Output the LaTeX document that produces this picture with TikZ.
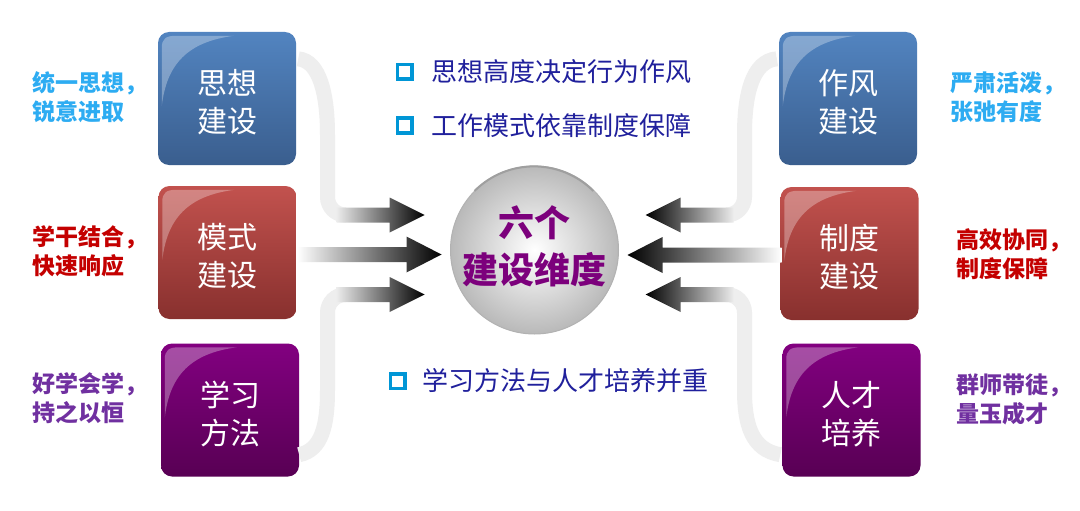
\documentclass[tikz,border=0pt]{standalone}
\usepackage{fontspec}
\setmainfont{Noto Sans CJK SC}
\usetikzlibrary{calc,positioning}
\definecolor{blueTop}{RGB}{82,132,192}
\definecolor{blueBot}{RGB}{58,94,142}
\definecolor{redTop}{RGB}{194,82,78}
\definecolor{redBot}{RGB}{136,48,46}
\definecolor{purTop}{RGB}{130,0,128}
\definecolor{purBot}{RGB}{88,0,84}
\definecolor{skyText}{RGB}{45,172,242}
\definecolor{redText}{RGB}{196,0,0}
\definecolor{purText}{RGB}{112,48,160}
\definecolor{navyText}{RGB}{32,32,156}
\definecolor{bulletBlue}{RGB}{0,150,214}
\definecolor{hubText}{RGB}{124,0,124}
\tikzset{
  dimbox/.style={rounded corners=11pt, minimum width=138pt, minimum height=133pt, inner sep=0pt},
  boxtxt/.style={text=white, align=center, inner sep=0pt, yshift=-4pt, font=\fontsize{30}{38}\selectfont},
  bluebox/.style={dimbox, top color=blueTop, bottom color=blueBot},
  redbox/.style={dimbox, top color=redTop, bottom color=redBot},
  purbox/.style={dimbox, top color=purTop, bottom color=purBot},
  motto/.style={anchor=west, inner sep=0pt, align=left, font=\fontsize{23}{29}\selectfont\bfseries},
  bsq/.style={draw=bulletBlue, line width=3.5pt, minimum size=14.5pt, inner sep=0pt},
  btext/.style={anchor=west, inner sep=0pt, text=navyText, font=\fontsize{26}{30}\selectfont},
  band/.style={draw=gray!13, line width=15pt},
  headL/.style={left color=gray!15, right color=black},
  headR/.style={left color=black, right color=gray!15},
  gloss/.style={white, opacity=.3}
}
\begin{document}
\begin{tikzpicture}[x=1pt, y=-1pt]
\fill[white] (0,0) rectangle (1080,511);
\useasboundingbox (0,0) rectangle (1080,511);
%hub
\node[circle, minimum size=168pt, inner sep=0pt, inner color=white, outer color=gray!55,
  draw=gray!60, line width=1pt,
  label={[text=hubText, align=center, yshift=4pt, font=\fontsize{36}{47}\selectfont\bfseries]center:六个\\建设维度}]
  (hub) at (534.5,250) {};
\draw[gray!75, line width=2pt] ($(hub.center)+(-60,-59)$) arc[start angle=135, end angle=45, radius=84pt];
%boxes
\node[bluebox, label={[boxtxt]center:思想\\建设}] (sx) at (227,98.5) {};
\node[redbox, label={[boxtxt]center:模式\\建设}] (ms) at (227.5,252.5) {};
\node[purbox, label={[boxtxt]center:学习\\方法}] (xx) at (230,410) {};
\node[bluebox, label={[boxtxt]center:作风\\建设}] (zf) at (848,98.5) {};
\node[redbox, label={[boxtxt]center:制度\\建设}] (zd) at (849.5,253.5) {};
\node[purbox, label={[boxtxt]center:人才\\培养}] (rc) at (851.5,410) {};
%gloss
\foreach \b in {sx,ms,xx,zf,zd,rc}
\fill[gloss] ($(\b.north west)+(4,74)$) -- ($(\b.north west)+(4,16)$)
  .. controls ($(\b.north west)+(4,7)$) and ($(\b.north west)+(8,4)$) .. ($(\b.north west)+(18,4)$)
  -- ($(\b.north west)+(76,4)$)
  .. controls ($(\b.north west)+(30,10)$) and ($(\b.north west)+(9,32)$) .. cycle;
%mottos
\node[motto, text=skyText] (m1) at (32,97.5) {统一思想，\\锐意进取};
\node[motto, text=redText] (m2) at (32,251.5) {学干结合，\\快速响应};
\node[motto, text=purText] (m3) at (32,398) {好学会学，\\持之以恒};
\node[motto, text=skyText] (m4) at (950,97.5) {严肃活泼，\\张弛有度};
\node[motto, text=redText] (m5) at (956,254) {高效协同，\\制度保障};
\node[motto, text=purText] (m6) at (956,399) {群师带徒，\\量玉成才};
%bullets
\node[bsq] (q1) at (404.5,72) {};
\node[btext, right=27pt of q1.center] (t1) {思想高度决定行为作风};
\node[bsq] (q2) at (404.5,125.5) {};
\node[btext, right=27pt of q2.center] (t2) {工作模式依靠制度保障};
\node[bsq] (q3) at (397.5,381) {};
\node[btext, right=25pt of q3.center] (t3) {学习方法与人才培养并重};
%arrow tips
\coordinate (lt) at ($(hub.west)+(-25.5,-35)$);
\coordinate (lm) at ($(hub.west)+(-8.5,4.5)$);
\coordinate (lb) at ($(hub.west)+(-25.5,44.5)$);
\coordinate (rt) at ($(hub.east)+(26.5,-35)$);
\coordinate (rm) at ($(hub.east)+(8.5,5)$);
\coordinate (rb) at ($(hub.east)+(26.5,44.5)$);
\coordinate (lv) at (327.5,0);
\coordinate (rv) at (744.5,0);
%left bands
\draw[band] ($(sx.north east)+(2,27)$) .. controls (320,61) and (327.5,95) .. (327.5,135)
  [rounded corners=18pt] -- (lv |- lt) -- ($(lt)+(-80,0)$);
\draw[band] ($(xx.south east)+(0,-22)$) .. controls (322,450) and (327.5,425) .. (327.5,390)
  [rounded corners=18pt] -- (lv |- lb) -- ($(lb)+(-80,0)$);
\shade[headL, shift={(lt)}] (-88,-7.5) -- (-35,-7.5) -- (-35,-17.5) -- (0,0) -- (-35,17.5) -- (-35,7.5) -- (-88,7.5) -- cycle;
\shade[headL, shift={(lb)}] (-88,-7.5) -- (-35,-7.5) -- (-35,-17.5) -- (0,0) -- (-35,17.5) -- (-35,7.5) -- (-88,7.5) -- cycle;
\shade[left color=white, middle color=gray!45, right color=black, shift={(lm)}]
  (-144,-7.5) -- (-35,-7.5) -- (-35,-18) -- (0,0) -- (-35,18) -- (-35,7.5) -- (-144,7.5) -- cycle;
%right bands
\draw[band] ($(zf.north west)+(-2,27)$) .. controls (752,61) and (744.5,95) .. (744.5,135)
  [rounded corners=18pt] -- (rv |- rt) -- ($(rt)+(80,0)$);
\draw[band] ($(rc.south west)+(-2,-22)$) .. controls (752,450) and (744.5,425) .. (744.5,390)
  [rounded corners=18pt] -- (rv |- rb) -- ($(rb)+(80,0)$);
\shade[headR, shift={(rt)}] (88,-7.5) -- (35,-7.5) -- (35,-17.5) -- (0,0) -- (35,17.5) -- (35,7.5) -- (88,7.5) -- cycle;
\shade[headR, shift={(rb)}] (88,-7.5) -- (35,-7.5) -- (35,-17.5) -- (0,0) -- (35,17.5) -- (35,7.5) -- (88,7.5) -- cycle;
\shade[left color=black, middle color=gray!45, right color=white, shift={(rm)}]
  (154,-7.5) -- (35,-7.5) -- (35,-18) -- (0,0) -- (35,18) -- (35,7.5) -- (154,7.5) -- cycle;
\end{tikzpicture}
\end{document}
